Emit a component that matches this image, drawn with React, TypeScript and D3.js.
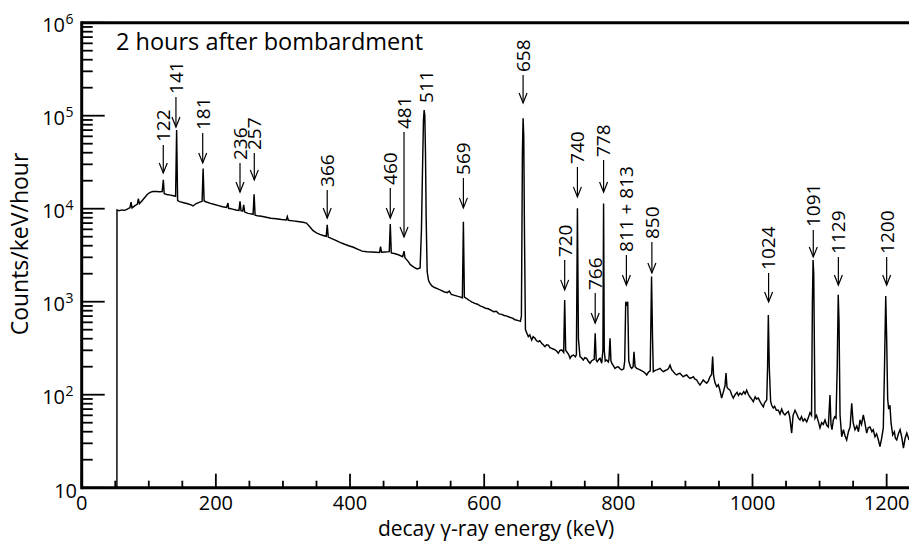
import React from "react";
import * as d3 from "d3";

const W = 909;
const H = 546;

const xDomain: [number, number] = [0, 1233.3];
const yDomain: [number, number] = [10, 1e6];
const xTickLabels = [0, 200, 400, 600, 800, 1000, 1200];
const yDecades = [10, 100, 1000, 10000, 100000, 1000000];

const title = "2 hours after bombardment";
const xLabel = "decay \u03b3-ray energy (keV)";
const yLabel = "Counts/keV/hour";

// spectrum [energy keV, counts/keV/hour]
const spectrumLow: [number, number][] = [
  [52.5, 10], [52.6, 9700], [56, 9500], [60, 9700], [64, 9600], [68, 9900], [72, 10300], [73.5, 11800],
  [75, 10200], [79, 10700], [83, 11200], [84.5, 12800], [86, 11300], [90, 12200], [94, 13200], [98, 14300],
  [102, 15000], [106, 15300], [111, 15300], [116, 15200], [120, 15300], [121.7, 20400], [123, 14500],
  [127, 14200], [132, 14000], [137, 13800], [140, 13600], [141.5, 70000], [143, 12200], [146, 11900],
  [152, 11600], [158, 11300], [163, 11000], [166, 10700], [170, 11300], [175, 11700], [179.5, 12000],
  [181, 27000], [182.5, 12100], [186, 11800], [192, 11400], [198, 11100], [204, 10800], [210, 10500],
  [216, 10300], [218, 11500], [219, 10100], [225, 9900], [230, 9700], [234.5, 9600], [236, 12000],
  [237.5, 9500], [240, 9400], [241.5, 11000], [243, 9200], [248, 8900], [252, 8800], [255.5, 8700],
  [257, 14300], [258.5, 8500], [262, 8400], [268, 8300], [275, 8100], [282, 7900], [290, 7800],
  [298, 7650], [305, 7550], [306.5, 8200], [308, 7500], [315, 7400], [322, 7300], [330, 7150],
  [335, 7000], [340, 6400], [345, 5800], [350, 5500], [355, 5300], [360, 5150], [364.5, 5050],
  [366, 6700], [367.5, 4950], [372, 4800], [378, 4600], [385, 4350], [392, 4150], [398, 4000],
  [405, 3850], [412, 3650], [418, 3500], [425, 3450], [432, 3420], [438, 3400], [444, 3380],
  [445.5, 3900], [447, 3400], [452, 3420], [458.5, 3450], [460, 6840], [461.5, 3350], [466, 3300],
  [472, 3200], [478.5, 3050], [480.5, 3500], [482, 2950], [486, 2750], [490, 2500], [495, 2350],
  [500, 2250], [504.5, 2300],
];

const spectrumMid: [number, number][] = [
  [506.5, 6000], [508, 25000], [509.5, 90000], [510.5, 115000], [511.5, 100000], [512.5, 40000],
  [513.5, 8000], [515, 2100], [517, 1700], [519, 1580], [522, 1480], [526, 1420], [530, 1380],
  [535, 1330], [540, 1280], [545, 1250], [548, 1300], [551, 1200], [556, 1170], [561, 1140],
  [565, 1120], [567.5, 1100], [569, 7240], [570.5, 1120], [574, 1080], [578, 1030], [582, 990],
  [586, 960], [590, 940], [594, 900], [598, 880], [602, 850], [606, 840], [610, 810], [614, 780],
  [618, 790], [622, 740], [626, 730], [630, 710], [634, 700], [638, 680], [642, 665], [646, 640],
  [650, 630], [654, 615], [655.5, 700], [657, 40000], [658, 93800], [659, 60000], [660, 6000],
  [661.5, 500], [663, 470], [665.8, 421], [668, 440], [670.8, 387], [673, 420], [675.8, 404],
  [678, 380], [680.7, 372], [683, 380], [685.7, 357], [688, 345], [690.7, 328], [693, 345],
  [695.6, 342], [698, 320], [700.6, 315], [703, 310], [705.6, 303], [708, 295], [710.5, 279],
  [713, 300], [715.6, 303], [718.5, 285], [720, 1040], [721.5, 300], [723, 290], [726, 270],
  [728, 246], [730, 260], [733, 267], [736, 255], [737.5, 270], [739, 10100], [740.5, 400],
  [742.8, 257], [745, 250], [747.8, 236], [750, 250], [752.8, 246], [755, 230], [757.7, 218],
  [760, 230], [761.8, 236], [764, 240], [765.5, 458], [767, 235], [768.6, 226], [771, 240],
  [772.7, 246], [775.2, 218], [777, 300], [778, 11400], [779, 300], [780.5, 230], [782.6, 236],
  [785, 225], [786, 240], [787.6, 404], [789, 230], [790.1, 218], [792.5, 205], [795, 192],
  [797.5, 198], [800, 200], [802.5, 190], [805, 185], [808, 190], [809.5, 230], [811, 1000],
  [812.5, 900], [814, 1000], [815.5, 230], [818, 200], [819.9, 192], [822, 200], [823.3, 290],
  [825, 200], [827.4, 192], [830, 188], [832.3, 185], [835, 180], [837.2, 177], [840, 170],
  [842.3, 163], [845, 175], [847.5, 180], [849.5, 1860], [851, 400], [852.1, 177], [855, 183],
  [857.2, 185], [860, 188], [862.1, 192], [865, 182], [867, 177], [870, 182], [872.1, 185],
  [874.5, 190], [877, 208], [879.5, 185], [881.9, 177], [884.5, 168], [887, 163], [889.5, 168],
  [891.9, 170], [894.5, 162], [896.8, 156], [899, 160], [901.9, 163], [904.5, 155], [906.8, 150],
  [909, 152], [911.7, 156], [914, 148], [916.8, 144], [919, 135],
];

const spectrumHigh: [number, number][] = [
  [921.7, 127], [924, 135], [926.6, 144], [929, 138], [931.7, 133], [934, 140], [936.6, 156],
  [939, 165], [940.6, 257], [942, 160], [944, 135], [946.6, 122], [949, 128], [951, 115], [954, 92],
  [957, 110], [959, 125], [960.5, 171], [962, 120], [964, 115], [966.5, 112], [969, 100],
  [971.4, 92], [974, 100], [977, 106], [979, 98], [981.4, 104], [984, 100], [987, 108], [989, 102],
  [991.3, 112], [994, 100], [996, 95], [998.5, 90], [1001.2, 84], [1004, 95], [1006, 90],
  [1008.7, 92], [1011, 85], [1013, 80], [1016.1, 74], [1018, 82], [1021.2, 88], [1022.5, 200],
  [1023.6, 719], [1025, 200], [1027, 85], [1028.6, 77], [1031, 72], [1033, 75], [1035.5, 68],
  [1038.5, 68], [1041, 62], [1043.5, 70], [1046, 63], [1048.4, 60.5], [1051, 64], [1053.4, 66],
  [1055.5, 58], [1058.4, 38.7], [1060.5, 60], [1063.4, 68], [1066, 62], [1068.5, 56], [1070.8, 53.5],
  [1073, 58], [1075.5, 52], [1078, 55], [1080.8, 51], [1083, 56], [1085.7, 64], [1088, 60],
  [1089.3, 1000], [1090.3, 2800], [1091.3, 2000], [1092.3, 300], [1093.2, 56], [1095.5, 60],
  [1098, 52], [1100.6, 44], [1103, 50], [1105.5, 48], [1108.1, 53.5], [1110.5, 47], [1113, 45],
  [1115.5, 99], [1117, 48], [1118.5, 42], [1120.5, 53.5], [1122.5, 58], [1124.5, 56], [1126.3, 200],
  [1127.8, 1190], [1129, 600], [1130.5, 60], [1133, 35.3], [1135.5, 42], [1138, 36], [1140.4, 32.6],
  [1143, 40], [1145.5, 45], [1147.9, 81], [1150, 50], [1152.8, 42], [1155.5, 46], [1158, 40],
  [1160.3, 53.5], [1162.5, 48], [1165.2, 60.5], [1167.5, 50], [1170.2, 38.7], [1172.5, 44],
  [1175.2, 45], [1178, 40], [1180, 42], [1182.6, 35.3], [1185, 38], [1187.5, 33], [1190, 27.6],
  [1192.5, 34], [1195, 44], [1196.8, 200], [1198.6, 1150], [1200, 400], [1201.5, 90], [1203, 70],
  [1204.9, 77], [1206.5, 50], [1209, 36.9], [1211.5, 40], [1213, 34], [1215, 32.6], [1217.5, 38],
  [1220, 42], [1222.5, 35], [1225, 26.7], [1227.5, 34], [1230, 38.7], [1233.4, 32.6],
];

// peak annotations: label text, energy, arrow tail and arrow tip (in counts)
const peakLabels = ["122", "141", "181", "236", "257", "366", "460", "481", "511", "569", "658",
  "720", "740", "766", "778", "811 + 813", "850", "1024", "1091", "1129", "1200"];
const peakEnergies = [121.6, 140.5, 180.4, 236, 257.3, 366, 460, 480.5, 514, 569, 658,
  720, 739, 765.5, 778, 812, 850, 1024, 1090.6, 1128, 1200];
const arrowTail = [48400, 159000, 65100, 31000, 39700, 15900, 16700, 66800, 137000, 21400, 274000,
  2800, 28100, 1240, 33400, 3180, 4380, 2040, 5900, 3030, 3030];
const arrowTip = [24200, 75500, 31000, 15100, 20400, 7940, 7940, 4970, 0, 10200, 137000,
  1340, 13400, 590, 15100, 1510, 2040, 994, 3030, 1510, 1510];

const FONT = "'Open Sans', 'Noto Sans', sans-serif";

export default function App() {
  const x = d3.scaleLinear().domain(xDomain).range([81.7, 909]);
  const y = d3.scaleLog().domain(yDomain).range([487.7, 22.7]);
  const spectrum = [...spectrumLow, ...spectrumMid, ...spectrumHigh];
  const line = d3
    .line<[number, number]>()
    .x((d) => x(d[0]))
    .y((d) => y(Math.max(d[1], 10)));

  const x0 = x(0);
  const y0 = y(10);
  const yTop = y(1e6);

  const yTicks = y.ticks();
  const xTicks = d3.range(0, 1233, 50);

  return (
    <svg
      width={W}
      height={H}
      viewBox={`0 0 ${W} ${H}`}
      style={{ position: "absolute", left: 0, top: 0, background: "#fff" }}
      fontFamily={FONT}
    >
      <defs>
        <clipPath id="plot">
          <rect x={x0} y={yTop} width={W - x0} height={y0 - yTop} />
        </clipPath>
      </defs>
      <rect x={0} y={0} width={W} height={H} fill="#fff" />

      {/* spectrum */}
      <path
        d={line(spectrum) || ""}
        fill="none"
        stroke="#000"
        strokeWidth={1.45}
        strokeLinejoin="miter"
        clipPath="url(#plot)"
      />

      {/* y ticks */}
      {yTicks.map((v, i) => {
        const lg = Math.log10(v);
        const major = Math.abs(lg - Math.round(lg)) < 1e-9;
        return (
          <line
            key={"yt" + i}
            x1={x0}
            x2={x0 + (major ? 23 : 11)}
            y1={y(v)}
            y2={y(v)}
            stroke="#000"
            strokeWidth={1.8}
          />
        );
      })}

      {/* x ticks */}
      {xTicks.map((v, i) => {
        const major = v % 200 === 0;
        return (
          <line
            key={"xt" + i}
            x1={x(v)}
            x2={x(v)}
            y1={y0}
            y2={y0 - (major ? 14 : 7)}
            stroke="#000"
            strokeWidth={1.8}
          />
        );
      })}

      {/* frame */}
      <line x1={x0} x2={W} y1={yTop} y2={yTop} stroke="#000" strokeWidth={3} />
      <line x1={x0} x2={W} y1={y0} y2={y0} stroke="#000" strokeWidth={3} />
      <line x1={x0} x2={x0} y1={yTop - 1.5} y2={y0 + 1.5} stroke="#000" strokeWidth={3} />

      {/* y tick labels */}
      {yDecades.map((v) => {
        const p = Math.round(Math.log10(v));
        if (p === 1) {
          return (
            <text key={"yl" + v} x={77} y={498} textAnchor="end" fontSize={20} fill="#000">
              10
            </text>
          );
        }
        return (
          <g key={"yl" + v}>
            <text x={65} y={y(v) + 9} textAnchor="end" fontSize={20} fill="#000">
              10
            </text>
            <text x={65.5} y={y(v) + 1} textAnchor="start" fontSize={14} fill="#000">
              {p}
            </text>
          </g>
        );
      })}

      {/* x tick labels */}
      {xTickLabels.map((v) => (
        <text key={"xl" + v} x={x(v)} y={510} textAnchor="middle" fontSize={20} fill="#000">
          {v}
        </text>
      ))}

      {/* axis titles */}
      <text x={496} y={536} textAnchor="middle" fontSize={21} fill="#000">
        {xLabel}
      </text>
      <text
        transform={`translate(28,244) rotate(-90)`}
        textAnchor="middle"
        fontSize={23}
        fill="#000"
      >
        {yLabel}
      </text>

      {/* title */}
      <text x={116} y={50} fontSize={23.5} fill="#000">
        {title}
      </text>

      {/* peak annotations */}
      {peakLabels.map((lab, i) => {
        const px = x(peakEnergies[i]);
        const tailY = y(arrowTail[i]);
        const hasArrow = arrowTip[i] > 0;
        const tipY = hasArrow ? y(arrowTip[i]) : tailY;
        const textY = hasArrow ? tailY - 3 : tailY;
        return (
          <g key={"pk" + i}>
            {hasArrow && (
              <g stroke="#000" strokeWidth={1.2} fill="none">
                <line x1={px} x2={px} y1={tailY} y2={tipY} />
                <path d={`M${px - 4},${tipY - 10} L${px},${tipY} L${px + 4},${tipY - 10}`} />
              </g>
            )}
            <text
              transform={`translate(${px},${textY}) rotate(-90)`}
              dy="0.36em"
              textAnchor="start"
              fontSize={19}
              fill="#000"
            >
              {lab}
            </text>
          </g>
        );
      })}
    </svg>
  );
}
